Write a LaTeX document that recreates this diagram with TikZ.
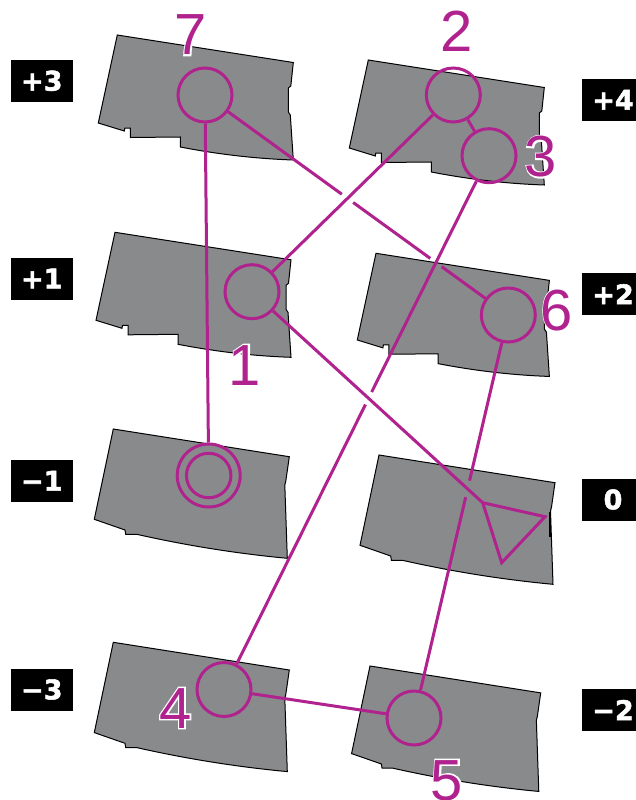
\documentclass[tikz,border=0pt]{standalone}
\usepackage{fontspec}
\setmainfont{Liberation Sans}
\newfontfamily\halofont{Liberation Sans}[FakeBold=5]
\newfontfamily\boxfont{DejaVu Sans}[BoldFeatures={FakeBold=2}]
\usetikzlibrary{calc,intersections}
\definecolor{mag}{RGB}{176,34,142}
\definecolor{floorgray}{RGB}{137,138,140}
\tikzset{
  floor/.style={fill=floorgray, draw=black, line width=1pt, line join=miter},
  link/.style={draw=mag, line width=3pt},
  spot/.style={circle, draw=mag, line width=3pt, minimum size=54pt, inner sep=0pt},
  lvl/.style={fill=black, text=white, font=\boxfont\bfseries\fontsize{27}{27}\selectfont, minimum width=62pt, minimum height=42pt, inner sep=0pt},
  num/.style={font=\fontsize{58}{58}\selectfont, inner sep=0pt, anchor=base},
  halo/.style={font=\halofont\fontsize{58}{58}\selectfont, inner sep=0pt, anchor=base, text=white},
}
\newcommand\floorUp[2]{\draw[floor, shift={(#1)}, scale=#2] (0,0) -- (176,27.5) -- (173.5,51) -- (171,53) -- (171,77) -- (173,80) -- (176,125) .. controls (138.3,123.7) and (100.7,119.3) .. (63,112) -- (63,102) -- (13,102.5) -- (13,93) -- (7.5,93) -- (7,96) -- (-19,88) -- cycle;}
\newcommand\floorLow[2]{\draw[floor, shift={(#1)}, scale=#2] (0,0) -- (176,27.7) -- (172.5,52) -- (171.5,56) -- (174,129.3) .. controls (123.8,124.6) and (73.6,116.6) .. (23.4,105.3) -- (12.4,105.3) -- (11.7,101) -- (-19,90.3) -- cycle;}
\newcommand\numlab[3]{%
  \node[halo] at (#1) {#3};
  \node[num, text=mag] (#2) at (#1) {#3};}
\begin{document}
\begin{tikzpicture}[x=1pt,y=-1pt]
\useasboundingbox (0,0) rectangle (636,800);
\fill[white] (0,0) rectangle (636,800);
% floors
\floorUp{117.3,35}{1}
\floorUp{115,232.3}{1}
\floorLow{113.3,429}{1}
\floorLow{113.3,642.3}{1}
\floorUp{368.3,60}{1}
\floorUp{376,253.3}{0.985}
\floorLow{379,455}{1}
\floorLow{370,666}{0.97}
\fill[black] (549.3,511.7) rectangle (551.2,536.7);
% level boxes
\node[lvl] (l3) at (41.8,80.8) {+3};
\node[lvl] (l1) at (41.8,278.5) {+1};
\node[lvl] (lm1) at (41.8,480.8) {−1};
\node[lvl] (lm3) at (41.8,689.5) {−3};
\node[lvl] (l4) at (613,99.8) {+4};
\node[lvl] (l2) at (613,294.2) {+2};
\node[lvl] (l0) at (613,499.5) {0};
\node[lvl] (lm2) at (613,710) {−2};
% spots
\node[spot] (c7) at (205,95) {};
\node[spot] (c2) at (453.3,95) {};
\node[spot] (c3) at (489,155.7) {};
\node[spot] (c1) at (252,291.7) {};
\node[spot] (c6) at (508.3,315) {};
\node[spot] (c4) at (224,689.5) {};
\node[spot] (c5) at (414,718) {};
\node[spot, minimum size=63pt] (cm1) at (208.7,475.5) {};
\node[spot, minimum size=44.5pt] (cm1i) at (208.7,475.5) {};
\coordinate (t1) at (482.7,502.7);
\coordinate (t2) at (545,516.7);
\coordinate (t3) at (501.7,562.7);
\draw[link, line join=miter] (t1) -- (t2) -- (t3) -- cycle;
% crossing points
\path[name path=p21] (c2.center) -- (c1.center);
\path[name path=p76] (c7.center) -- (c6.center);
\path[name path=p34] (c3.center) -- (c4.center);
\path[name path=p1t] (c1.center) -- (t1);
\path[name path=p65] (c6.center) -- (c5.center);
\path[name intersections={of=p21 and p76, by=xa}];
\path[name intersections={of=p34 and p76, by=xb}];
\path[name intersections={of=p34 and p1t, by=xc}];
\path[name intersections={of=p65 and p1t, by=xd}];
% connectors
\draw[link] (c7) -- (cm1);
\draw[link] (c2) -- (c1);
\draw[link] (c2) -- (c3);
\draw[link] (c1) -- (t1);
\draw[link] (c4) -- (c5);
\draw[link] (c7) -- ($(xa)!7pt!(c7)$);
\draw[link] ($(xa)!7pt!(c6)$) -- ($(xb)!7pt!(c7)$);
\draw[link] ($(xb)!7pt!(c6)$) -- (c6);
\draw[link] (c3) -- ($(xc)!7pt!(c3)$);
\draw[link] ($(xc)!7pt!(c4)$) -- (c4);
\draw[link] (c6) -- ($(xd)!8.5pt!(c6)$);
\draw[link] ($(xd)!8.5pt!(c5)$) -- (c5);
% numbers
\numlab{190.5,55}{n7}{7}
\numlab{457,51.7}{n2}{2}
\numlab{541,176.7}{n3}{3}
\numlab{245,385}{n1}{1}
\numlab{557,330}{n6}{6}
\numlab{175.5,728}{n4}{4}
\numlab{447,800}{n5}{5}
\end{tikzpicture}
\end{document}
